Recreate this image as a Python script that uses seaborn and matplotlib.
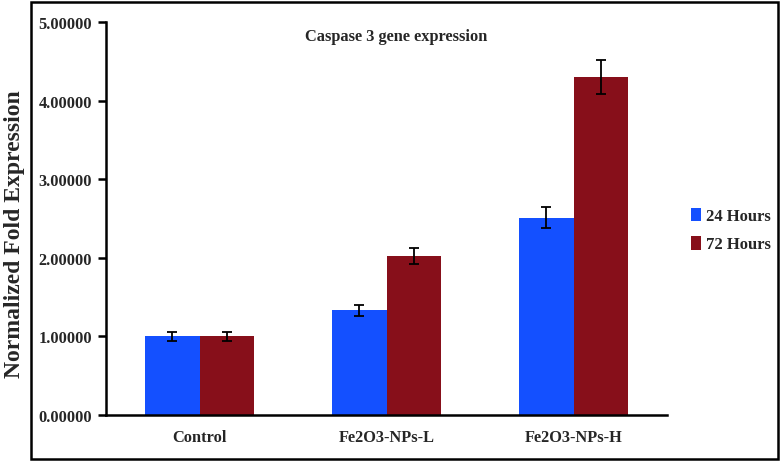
import matplotlib
matplotlib.use("Agg")
import matplotlib.pyplot as plt
import seaborn as sns
import pandas as pd
import numpy as np
from matplotlib.patches import Rectangle, Patch
from matplotlib.ticker import FixedLocator

categories = ["Control", "Fe2O3-NPs-L", "Fe2O3-NPs-H"]
series = ["24 Hours", "72 Hours"]
values_24h = [1.00, 1.33, 2.51]
values_72h = [1.00, 2.02, 4.30]
errors_24h = [0.06, 0.07, 0.13]
errors_72h = [0.06, 0.10, 0.22]
yticks = [0, 1, 2, 3, 4, 5]
colors = ["#1450ff", "#870f1a"]

df = pd.DataFrame({
    "Category": categories * 2,
    "Series": [series[0]] * 3 + [series[1]] * 3,
    "Value": values_24h + values_72h,
    "Err": errors_24h + errors_72h,
})

sns.set_style("white")
plt.rcParams["font.family"] = ["Liberation Serif", "DejaVu Serif"]
plt.rcParams["font.weight"] = "bold"

fig = plt.figure(figsize=(7.82, 4.64), dpi=100)
ax = fig.add_axes([106 / 782, 1 - 416 / 464, (667 - 106) / 782, (416 - 23) / 464])

sns.barplot(data=df, x="Category", y="Value", hue="Series", order=categories,
            hue_order=series, palette=colors, width=0.58, errorbar=None,
            ax=ax, legend=False, saturation=1, edgecolor="none", linewidth=0)

# error bars on bar centres
for cont, errs in zip(ax.containers, [errors_24h, errors_72h]):
    for bar, e in zip(cont, errs):
        xc = bar.get_x() + bar.get_width() / 2
        ax.errorbar(xc, bar.get_height(), yerr=e, fmt="none", ecolor="black",
                    elinewidth=1.3, capsize=3.5, capthick=1.3, zorder=5)

ax.set_ylim(0, 5)
ax.set_xlim(-0.5, 2.5)
ax.set_yticks(yticks)
ax.set_yticklabels([f"{v:.5f}" for v in yticks], fontsize=11.8, fontweight="bold")
ax.set_xticklabels(categories, fontsize=11.8, fontweight="bold")
ax.tick_params(axis="x", which="major", length=0, pad=10)
ax.xaxis.set_minor_locator(FixedLocator([0.5, 1.5, 2.5]))
ax.tick_params(axis="x", which="minor", length=6, width=1.8, direction="out", color="black")
ax.tick_params(axis="y", length=6, width=1.8, direction="out", color="black", left=True, pad=4)

for s in ["top", "right"]:
    ax.spines[s].set_visible(False)
for s in ["left", "bottom"]:
    ax.spines[s].set_color("black")
    ax.spines[s].set_linewidth(1.8)

ax.set_xlabel("")
ax.set_ylabel("")

fig.text(15 / 782, 1 - 234 / 464, "Normalized Fold Expression", rotation=90,
         ha="center", va="center", fontsize=17, fontweight="bold")
fig.text(396 / 782, 1 - 37 / 464, "Caspase 3 gene expression", ha="center",
         va="center", fontsize=11.8, fontweight="bold")

handles = [Patch(facecolor=c, edgecolor="none") for c in colors]
fig.legend(handles, series, loc="center left", bbox_to_anchor=(676 / 782, 1 - 231 / 464),
           frameon=False, prop={"weight": "bold", "size": 12}, handlelength=0.6,
           handleheight=0.9, handletextpad=0.3, labelspacing=0.7)

fig.patches.append(Rectangle((31 / 782, 1 - 460 / 464), (778 - 31) / 782, (460 - 3) / 464,
                             transform=fig.transFigure, fill=False, edgecolor="black",
                             linewidth=1.8, zorder=10))

fig.savefig("out.png", dpi=100)
